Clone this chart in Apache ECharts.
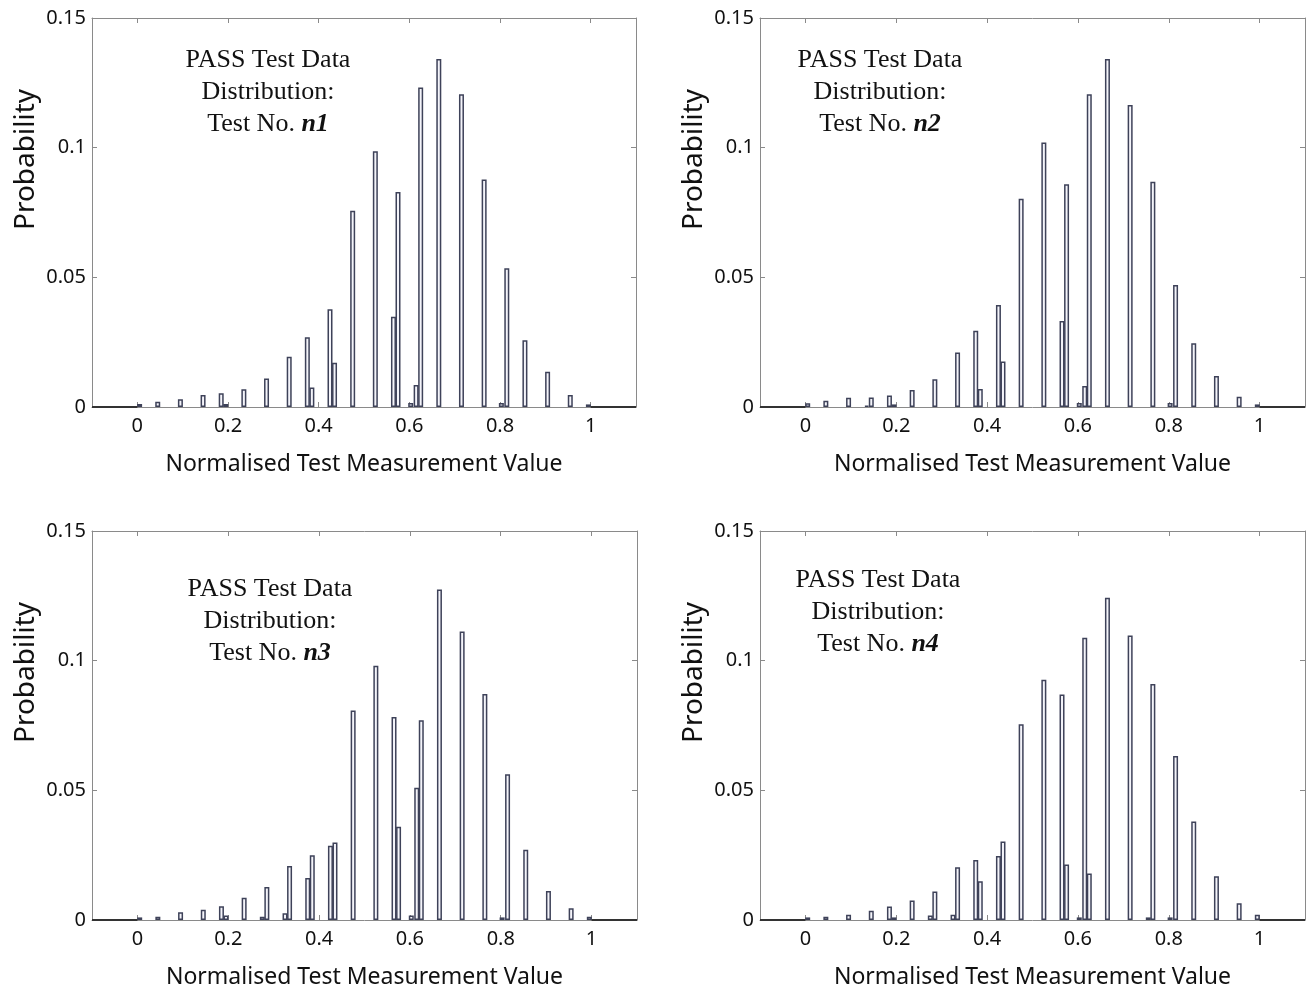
<!DOCTYPE html>
<html>
<head>
<meta charset="utf-8">
<script src="https://cdn.jsdelivr.net/npm/echarts@6/dist/echarts.min.js"></script>
<style>
  html, body { margin: 0; padding: 0; background: #fff; }
  #main { width: 1309px; height: 992px; }
</style>
</head>
<body>
<div id="main"></div>
<script>
// tick labels
var xTicks = [0, 0.2, 0.4, 0.6, 0.8, 1];
var yTicks = [0, 0.05, 0.1, 0.15];
var testNames = ['n1', 'n2', 'n3', 'n4'];

// histogram bars [bin centre, probability]
var n1Bars = [[0.005,0.0012],[0.045,0.002],[0.095,0.003],[0.145,0.0046],[0.185,0.0053],[0.195,0.0012],
    [0.235,0.0068],[0.285,0.011],[0.335,0.0194],[0.375,0.0269],[0.385,0.0075],[0.425,0.0377],[0.435,0.0171],
    [0.475,0.0757],[0.525,0.0986],[0.565,0.0348],[0.575,0.0829],[0.603,0.0015],[0.615,0.0085],[0.625,0.1232],
    [0.665,0.1342],[0.715,0.1206],[0.765,0.0877],[0.803,0.0015],[0.815,0.0535],[0.855,0.0257],[0.905,0.0136],
    [0.955,0.0046],[0.995,0.001]];
var n2Bars = [[0.005,0.0014],[0.045,0.0024],[0.095,0.0036],[0.135,0.0005],[0.145,0.0037],[0.185,0.0044],
    [0.195,0.001],[0.235,0.0066],[0.285,0.0107],[0.335,0.021],[0.375,0.0294],[0.385,0.0069],[0.425,0.0393],
    [0.435,0.0175],[0.475,0.0803],[0.525,0.102],[0.565,0.0332],[0.575,0.0859],[0.603,0.0015],[0.615,0.0081],
    [0.625,0.1206],[0.665,0.1342],[0.715,0.1165],[0.765,0.0869],[0.803,0.0015],[0.815,0.047],[0.855,0.0246],
    [0.905,0.012],[0.955,0.004],[0.995,0.001]];
var n3Bars = [[0.005,0.001],[0.045,0.0013],[0.095,0.003],[0.145,0.004],[0.185,0.0053],[0.195,0.0017],
    [0.235,0.0086],[0.275,0.0013],[0.285,0.0127],[0.325,0.0026],[0.335,0.0208],[0.375,0.0162],[0.385,0.025],
    [0.425,0.0286],[0.435,0.0299],[0.475,0.0808],[0.525,0.098],[0.565,0.0783],[0.575,0.036],[0.603,0.0017],
    [0.615,0.051],[0.625,0.077],[0.665,0.1274],[0.715,0.1112],[0.765,0.0871],[0.803,0.001],[0.815,0.0562],
    [0.855,0.0271],[0.905,0.0112],[0.955,0.0045],[0.995,0.0013]];
var n4Bars = [[0.005,0.001],[0.045,0.0013],[0.095,0.002],[0.145,0.0036],[0.185,0.0052],[0.195,0.001],
    [0.235,0.0075],[0.275,0.0017],[0.285,0.011],[0.325,0.002],[0.335,0.0203],[0.375,0.0231],[0.385,0.0149],
    [0.425,0.0247],[0.435,0.0303],[0.475,0.0755],[0.525,0.0926],[0.565,0.087],[0.575,0.0214],[0.603,0.001],
    [0.615,0.1088],[0.625,0.0179],[0.665,0.1243],[0.715,0.1097],[0.755,0.001],[0.765,0.091],[0.803,0.001],
    [0.815,0.0632],[0.855,0.038],[0.905,0.0169],[0.955,0.0065],[0.995,0.002]];
// empty bins at both ends drawn as flat edges
var leftEdge = [[-0.1,0],[0,0]];
var rightEdge = [[1,0],[1.1,0]];

var allBars = [n1Bars, n2Bars, n3Bars, n4Bars];
var grids = [
    {left: 92, top: 18, width: 544, height: 389},
    {left: 760, top: 18, width: 545, height: 389},
    {left: 92, top: 531, width: 545, height: 389},
    {left: 760, top: 531, width: 545, height: 389}
];
var notePos = [[268, 44], [880, 44], [270, 573], [878, 564]];

var frameColor = '#8a8a8a';
var labelFont = "'Noto Sans', 'Open Sans', sans-serif";
var serifFont = "'Liberation Serif', 'DejaVu Serif', serif";

function tickFmt(v) {
    return String(+v.toFixed(2));
}

var option = {
    backgroundColor: '#fff',
    animation: false,
    grid: grids,
    xAxis: [],
    yAxis: [],
    series: [],
    graphic: []
};

for (var i = 0; i < 4; i++) {
    // bottom axis with labels
    option.xAxis.push({
        type: 'value', gridIndex: i, min: -0.1, max: 1.1,
        name: 'Normalised Test Measurement Value', nameLocation: 'middle', nameGap: 46,
        nameTextStyle: {fontSize: 23, color: '#111', fontFamily: labelFont},
        axisLine: {show: true, onZero: false, lineStyle: {color: frameColor, width: 1}},
        axisTick: {show: true, inside: true, length: 5, customValues: xTicks, lineStyle: {color: frameColor}},
        axisLabel: {show: true, customValues: xTicks, margin: 9, fontSize: 20, color: '#111', fontFamily: labelFont,
            formatter: tickFmt},
        splitLine: {show: false}
    });
    // top mirror for box + ticks
    option.xAxis.push({
        type: 'value', gridIndex: i, min: -0.1, max: 1.1, position: 'top',
        axisLine: {show: true, onZero: false, lineStyle: {color: frameColor, width: 1}},
        axisTick: {show: true, inside: true, length: 5, customValues: xTicks, lineStyle: {color: frameColor}},
        axisLabel: {show: false},
        splitLine: {show: false}
    });
    option.yAxis.push({
        type: 'value', gridIndex: i, min: 0, max: 0.15, interval: 0.05,
        name: 'Probability', nameLocation: 'middle', nameGap: 52,
        nameTextStyle: {fontSize: 28, color: '#111', fontFamily: labelFont, padding: [0, 0, 0, 106]},
        axisLine: {show: true, onZero: false, lineStyle: {color: frameColor, width: 1}},
        axisTick: {show: true, inside: true, length: 5, lineStyle: {color: frameColor}},
        axisLabel: {show: true, margin: 6, fontSize: 20, color: '#111', fontFamily: labelFont,
            formatter: tickFmt},
        splitLine: {show: false}
    });
    option.yAxis.push({
        type: 'value', gridIndex: i, min: 0, max: 0.15, interval: 0.05, position: 'right',
        axisLine: {show: true, onZero: false, lineStyle: {color: frameColor, width: 1}},
        axisTick: {show: true, inside: true, length: 5, lineStyle: {color: frameColor}},
        axisLabel: {show: false},
        splitLine: {show: false}
    });

    option.series.push({
        type: 'bar', xAxisIndex: i * 2, yAxisIndex: i * 2,
        data: allBars[i], barWidth: 5,
        itemStyle: {color: '#f4f4fa', borderColor: '#3e4259', borderWidth: 1.5},
        silent: true
    });
    option.series.push({
        type: 'line', xAxisIndex: i * 2, yAxisIndex: i * 2, data: leftEdge,
        symbol: 'none', lineStyle: {color: '#333', width: 2}, silent: true, z: 3
    });
    option.series.push({
        type: 'line', xAxisIndex: i * 2, yAxisIndex: i * 2, data: rightEdge,
        symbol: 'none', lineStyle: {color: '#333', width: 2}, silent: true, z: 3
    });

    option.graphic.push({
        type: 'text', x: notePos[i][0], y: notePos[i][1], z: 10,
        style: {
            text: '{a|PASS Test Data}\n{a|Distribution:}\n{a|Test No. }{b|' + testNames[i] + '}',
            align: 'center', verticalAlign: 'top',
            rich: {
                a: {fontSize: 26, lineHeight: 32, fontFamily: serifFont, fill: '#111'},
                b: {fontSize: 26, lineHeight: 32, fontFamily: serifFont, fontWeight: 'bold', fontStyle: 'italic', fill: '#111'}
            }
        }
    });
}

var myChart = echarts.init(document.getElementById('main'));
myChart.setOption(option);
</script>
</body>
</html>
